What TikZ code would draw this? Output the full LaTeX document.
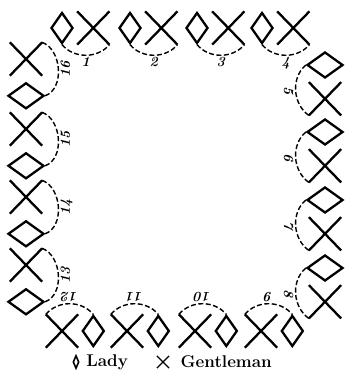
\documentclass[tikz,border=0pt]{standalone}
\usepackage{tikz}
\usetikzlibrary{positioning,shapes.geometric,shapes.misc}

\begin{document}
\begin{tikzpicture}[
      x=1pt,y=1pt,
      node distance=3pt,
      lady/.style={diamond,draw,line width=2.3pt,inner sep=0pt,minimum width=22pt,minimum height=31pt},
      sidelady/.style={lady,minimum width=36pt,minimum height=26pt},
      gent/.style={cross out,draw,line width=2.3pt,inner sep=0pt,minimum width=30pt,minimum height=31pt},
      pair/.style={line width=1.4pt,dash pattern=on 5pt off 2.5pt},
      num/.style={anchor=north,inner sep=1.5pt,font=\fontsize{14}{14}\selectfont\bfseries\itshape},
      key/.style={font=\fontsize{17}{19}\selectfont\bfseries}
    ]
    \useasboundingbox (0,0) rectangle (345,371);
    % head of the set
    \node[lady] (l1) at (62,343) {};
    \node[gent,right=of l1] (g1) {};
    \node[lady] (l2) at (130,343) {};
    \node[gent,right=of l2] (g2) {};
    \node[lady] (l3) at (197,343) {};
    \node[gent,right=of l3] (g3) {};
    \node[lady] (l4) at (262,343) {};
    \node[gent,right=of l4] (g4) {};
    \draw[pair] (l1.south) to[out=-50,in=-130] node[num] (n1) {1} (g1.south east);
    \draw[pair] (l2.south) to[out=-50,in=-130] node[num] (n2) {2} (g2.south east);
    \draw[pair] (l3.south) to[out=-50,in=-130] node[num] (n3) {3} (g3.south east);
    \draw[pair] (l4.south) to[out=-50,in=-130] node[num] (n4) {4} (g4.south east);
    % right side
    \node[sidelady] (l5) at (325,306) {};
    \node[gent,below=of l5] (g5) {};
    \node[sidelady] (l6) at (325,239) {};
    \node[gent,below=of l6] (g6) {};
    \node[sidelady] (l7) at (325,171) {};
    \node[gent,below=of l7] (g7) {};
    \node[sidelady] (l8) at (325,103) {};
    \node[gent,below=of l8] (g8) {};
    \draw[pair] (l5.west) to[out=220,in=145] node[num,rotate=-90] (n5) {5} (g5.south west);
    \draw[pair] (l6.west) to[out=220,in=145] node[num,rotate=-90] (n6) {6} (g6.south west);
    \draw[pair] (l7.west) to[out=220,in=145] node[num,rotate=-90] (n7) {7} (g7.south west);
    \draw[pair] (l8.west) to[out=220,in=145] node[num,rotate=-90] (n8) {8} (g8.south west);
    % foot of the set
    \node[gent] (g9) at (261,40) {};
    \node[lady,right=of g9] (l9) {};
    \node[gent] (g10) at (195,40) {};
    \node[lady,right=of g10] (l10) {};
    \node[gent] (g11) at (127,40) {};
    \node[lady,right=of g11] (l11) {};
    \node[gent] (g12) at (62,40) {};
    \node[lady,right=of g12] (l12) {};
    \draw[pair] (g9.north west) to[out=50,in=130] node[num,rotate=180] (n9) {9} (l9.north);
    \draw[pair] (g10.north west) to[out=50,in=130] node[num,rotate=180] (n10) {10} (l10.north);
    \draw[pair] (g11.north west) to[out=50,in=130] node[num,rotate=180] (n11) {11} (l11.north);
    \draw[pair] (g12.north west) to[out=50,in=130] node[num,rotate=180] (n12) {12} (l12.north);
    % left side
    \node[gent] (g13) at (26,106) {};
    \node[sidelady,below=6pt of g13] (l13) {};
    \node[gent] (g14) at (26,174) {};
    \node[sidelady,below=6pt of g14] (l14) {};
    \node[gent] (g15) at (26,242) {};
    \node[sidelady,below=6pt of g15] (l15) {};
    \node[gent] (g16) at (26,312) {};
    \node[sidelady,below=6pt of g16] (l16) {};
    \draw[pair] (g13.north east) to[out=-20,in=20] node[num,rotate=90] (n13) {13} (l13.east);
    \draw[pair] (g14.north east) to[out=-20,in=20] node[num,rotate=90] (n14) {14} (l14.east);
    \draw[pair] (g15.north east) to[out=-20,in=20] node[num,rotate=90] (n15) {15} (l15.east);
    \draw[pair] (g16.north east) to[out=-20,in=20] node[num,rotate=90] (n16) {16} (l16.east);
    % key
    \node[lady,minimum width=6pt,minimum height=13pt,line width=1.6pt] (keylady) at (76,9) {};
    \node[key,right=3pt of keylady] (keyladytext) {Lady};
    \node[gent,minimum width=11pt,minimum height=11pt,line width=1.2pt] (keygent) at (163,9) {};
    \node[key,right=8pt of keygent] (keygenttext) {Gentleman};
  \end{tikzpicture}
\end{document}
